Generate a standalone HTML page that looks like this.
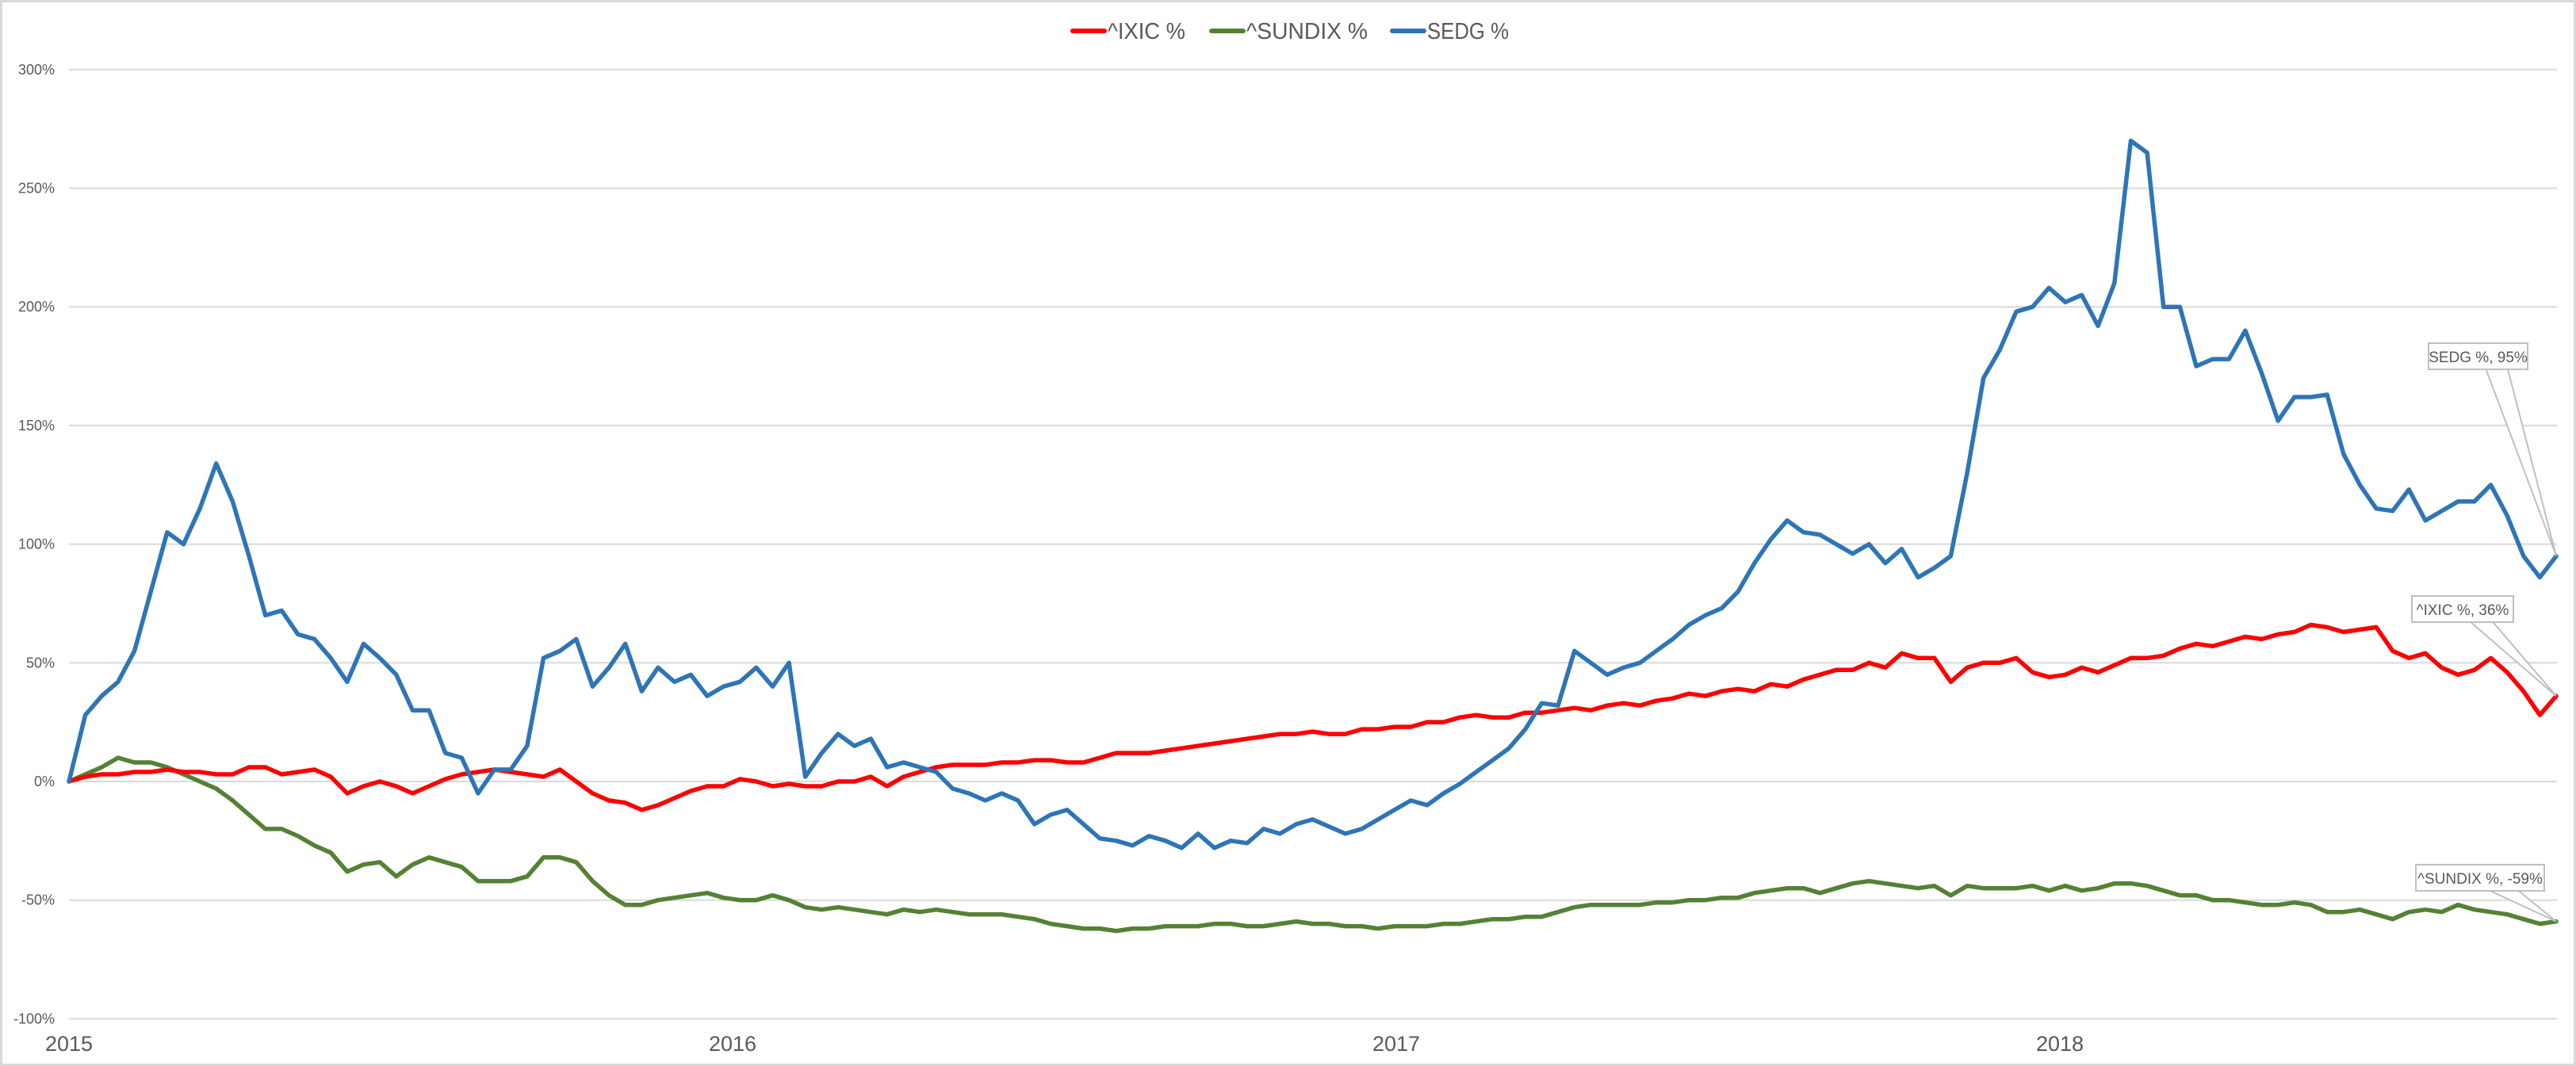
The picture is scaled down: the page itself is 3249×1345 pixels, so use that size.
<!DOCTYPE html>
<html><head><meta charset="utf-8"><style>
html,body{margin:0;padding:0;background:#fff;}
svg{display:block;font-family:"Liberation Sans",sans-serif;}
</style></head><body>
<svg id="chart" width="3249" height="1345" viewBox="0 0 3249 1345" xmlns="http://www.w3.org/2000/svg">
<rect x="1.5" y="1.5" width="3246" height="1342" fill="#fff" stroke="#d9d9d9" stroke-width="3"/>
<g id="grid"></g>
<g id="yaxis"></g>
<g id="xaxis"></g>
<g id="series"></g>
<g id="labels"></g>
<g font-size="29" fill="#595959">
  <g>
    <line x1="1353" y1="39" x2="1393" y2="39" stroke="#ff0000" stroke-width="6" stroke-linecap="round"/>
    <text x="1397" y="49" textLength="98" lengthAdjust="spacingAndGlyphs">^IXIC %</text>
  </g>
  <g>
    <line x1="1528" y1="39" x2="1568" y2="39" stroke="#548235" stroke-width="6" stroke-linecap="round"/>
    <text x="1572" y="49" textLength="153" lengthAdjust="spacingAndGlyphs">^SUNDIX %</text>
  </g>
  <g>
    <line x1="1756" y1="39" x2="1796" y2="39" stroke="#2e75b6" stroke-width="6" stroke-linecap="round"/>
    <text x="1800" y="49" textLength="103" lengthAdjust="spacingAndGlyphs">SEDG %</text>
  </g>
</g>
</svg>
<script>
const yTicks = [300, 250, 200, 150, 100, 50, 0, -50, -100];
const yearLabels = ["2015", "2016", "2017", "2018"];
const yearValues = [2015, 2016, 2017, 2018];
const startYear = 2015.0;
const endYear = 2018.748;
const sedgValues = [
0,28,36,42,55,80,105,100,115,134,
118,95,70,72,62,60,52,42,58,52,
45,30,30,12,10,-5,5,5,15,52,
55,60,40,48,58,38,48,42,45,36,
40,42,48,40,50,2,12,20,15,18,
6,8,6,4,-3,-5,-8,-5,-8,-18,
-14,-12,-18,-24,-25,-27,-23,-25,-28,-22,
-28,-25,-26,-20,-22,-18,-16,-19,-22,-20,
-16,-12,-8,-10,-5,-1,4,9,14,22,
33,32,55,50,45,48,50,55,60,66,
70,73,80,92,102,110,105,104,100,96,
100,92,98,86,90,95,130,170,182,198,
200,208,202,205,192,210,270,265,200,200,
175,178,178,190,172,152,162,162,163,138,
125,115,114,123,110,114,118,118,125,112,
95,86,95];
const ixicValues = [
0,2,3,3,4,4,5,4,4,3,
3,6,6,3,4,5,2,-5,-2,0,
-2,-5,-2,1,3,4,5,4,3,2,
5,0,-5,-8,-9,-12,-10,-7,-4,-2,
-2,1,0,-2,-1,-2,-2,0,0,2,
-2,2,4,6,7,7,7,8,8,9,
9,8,8,10,12,12,12,13,14,15,
16,17,18,19,20,20,21,20,20,22,
22,23,23,25,25,27,28,27,27,29,
29,30,31,30,32,33,32,34,35,37,
36,38,39,38,41,40,43,45,47,47,
50,48,54,52,52,42,48,50,50,52,
46,44,45,48,46,49,52,52,53,56,
58,57,59,61,60,62,63,66,65,63,
64,65,55,52,54,48,45,47,52,46,
38,28,36];
const sundixValues = [
0,3,6,10,8,8,6,3,0,-3,
-8,-14,-20,-20,-23,-27,-30,-38,-35,-34,
-40,-35,-32,-34,-36,-42,-42,-42,-40,-32,
-32,-34,-42,-48,-52,-52,-50,-49,-48,-47,
-49,-50,-50,-48,-50,-53,-54,-53,-54,-55,
-56,-54,-55,-54,-55,-56,-56,-56,-57,-58,
-60,-61,-62,-62,-63,-62,-62,-61,-61,-61,
-60,-60,-61,-61,-60,-59,-60,-60,-61,-61,
-62,-61,-61,-61,-60,-60,-59,-58,-58,-57,
-57,-55,-53,-52,-52,-52,-52,-51,-51,-50,
-50,-49,-49,-47,-46,-45,-45,-47,-45,-43,
-42,-43,-44,-45,-44,-48,-44,-45,-45,-45,
-44,-46,-44,-46,-45,-43,-43,-44,-46,-48,
-48,-50,-50,-51,-52,-52,-51,-52,-55,-55,
-54,-56,-58,-55,-54,-55,-52,-54,-55,-56,
-58,-60,-59];
const seriesNames = ["^IXIC %", "^SUNDIX %", "SEDG %"];

const NS = "http://www.w3.org/2000/svg";
const X0 = 87, X1 = 3225, yearPx = 837;
function xOfYear(t){ return X0 + (t - startYear) * yearPx; }
function xOfIndex(i, n){ return xOfYear(startYear + (endYear - startYear) * i / (n - 1)); }
function yOf(v){ return 986 - v * 2.994; }
function mk(tag, attrs, parent){
  const e = document.createElementNS(NS, tag);
  for (const k in attrs) e.setAttribute(k, attrs[k]);
  parent.appendChild(e); return e;
}
const grid = document.getElementById('grid');
const yaxis = document.getElementById('yaxis');
yTicks.forEach(v => {
  const l = mk('line', {x1: X0, x2: X1, y1: yOf(v), y2: yOf(v), stroke: '#d9d9d9', 'stroke-width': 2}, grid);
  
  
  const t = mk('text', {x: 69, y: yOf(v) + 6, 'text-anchor': 'end', 'font-size': 18, fill: '#595959'}, yaxis);
  t.textContent = v + '%';
  
  
});
const xaxis = document.getElementById('xaxis');
yearValues.forEach((yv, i) => {
  const t = mk('text', {x: xOfYear(yv), y: 1326, 'text-anchor': 'middle', 'font-size': 27, fill: '#595959'}, xaxis);
  t.textContent = yearLabels[i];
  
  
});
const seriesG = document.getElementById('series');
function drawLine(vals, color, name){
  const pts = vals.map((v, i) => xOfIndex(i, vals.length).toFixed(1) + ',' + yOf(v).toFixed(1)).join(' ');
  const p = mk('polyline', {points: pts, fill: 'none', stroke: color, 'stroke-width': 5.5, 'stroke-linejoin': 'round', 'stroke-linecap': 'round'}, seriesG);
  
  
}
drawLine(sundixValues, '#548235', 'sundix-line');
drawLine(ixicValues, '#ff0000', 'ixic-line');
drawLine(sedgValues, '#2e75b6', 'sedg-line');

const labelsG = document.getElementById('labels');
function callout(vals, name, bx, by, bw, label){
  const v = vals[vals.length - 1];
  const px = xOfIndex(vals.length - 1, vals.length), py = yOf(v);
  mk('polygon', {points: (bx + bw*0.58) + ',' + (by + 33) + ' ' + px + ',' + py + ' ' + (bx + bw*0.80) + ',' + (by + 33), fill: '#fff', stroke: '#bfbfbf', 'stroke-width': 2}, labelsG);
  const r = mk('rect', {x: bx, y: by, width: bw, height: 33, fill: '#fff', stroke: '#bfbfbf', 'stroke-width': 2}, labelsG);
  
  
  const t = mk('text', {x: bx + bw/2, y: by + 24, 'text-anchor': 'middle', 'font-size': 19, fill: '#595959'}, labelsG);
  t.textContent = label + ', ' + v + '%';
  
  
}
callout(sedgValues, 'sedg-data-label', 3063, 433, 125, seriesNames[2]);
callout(ixicValues, 'ixic-data-label', 3042, 752, 128, seriesNames[0]);
callout(sundixValues, 'sundix-data-label', 3047, 1091, 162, seriesNames[1]);
</script>
</body></html>
